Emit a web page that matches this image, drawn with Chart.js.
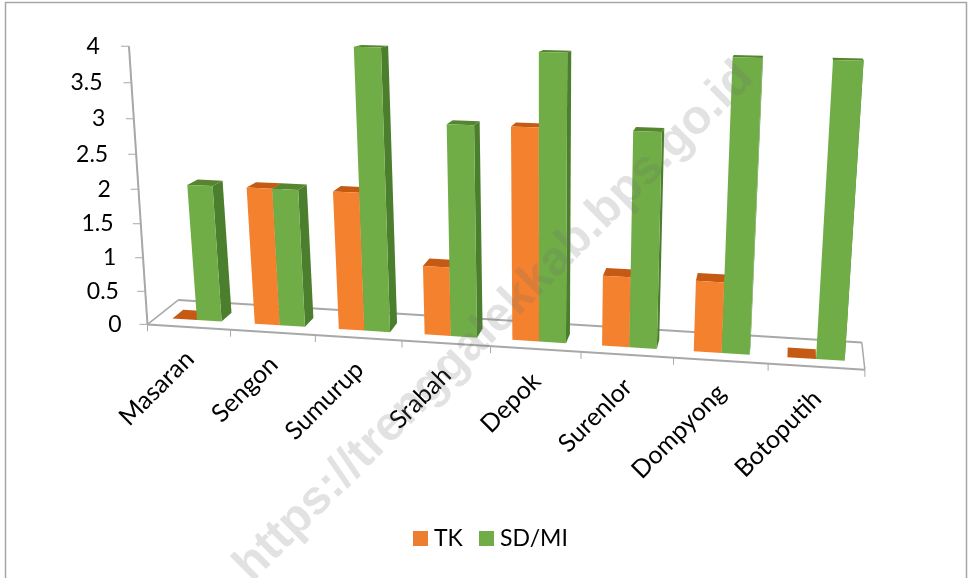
<!DOCTYPE html>
<html>
<head>
<meta charset="utf-8">
<script src="https://cdn.jsdelivr.net/npm/chart.js@4"></script>
<style>
  html, body { margin: 0; padding: 0; background: #fff; }
  #wrap { width: 970px; height: 578px; }
</style>
</head>
<body>
<div id="wrap"><canvas id="chart" width="970" height="578"></canvas></div>
<script>
const categories = ["Masaran", "Sengon", "Sumurup", "Srabah", "Depok", "Surenlor", "Dompyong", "Botoputih"];
const tk = [0, 2, 2, 1, 3, 1, 1, 0];
const sdmi = [2, 2, 4, 3, 4, 3, 4, 4];
const yStep = 0.5;
const yMax = 4;
const watermark = "https://trenggalekkab.bps.go.id";

const FONT = "Lato, Carlito, sans-serif";

// where the corners of the plot end up on screen (first/last category at 0 and at 4)
const quad = [[197, 320], [816, 359], [833, 60], [177, 42]];

// square -> quad homography
const makeProjection = (q) => {
  const [[x0, y0], [x1, y1], [x2, y2], [x3, y3]] = q;
  const dx1 = x1 - x2, dx2 = x3 - x2, sx = x0 - x1 + x2 - x3;
  const dy1 = y1 - y2, dy2 = y3 - y2, sy = y0 - y1 + y2 - y3;
  const den = dx1 * dy2 - dx2 * dy1;
  const g = (sx * dy2 - dx2 * sy) / den;
  const h = (dx1 * sy - sx * dy1) / den;
  const a = x1 - x0 + g * x1, b = x3 - x0 + h * x3;
  const d = y1 - y0 + g * y1, e = y3 - y0 + h * y3;
  return (s, t) => {
    const w = g * s + h * t + 1;
    return [(a * s + b * t + x0) / w, (d * s + e * t + y0) / w];
  };
};
const squareToScreen = makeProjection(quad);

// pushes a point back along the depth axis
const extrude = ([x, y], depth) => [
  x + depth * 0.017 * (800 - x),
  y - depth * 0.025 * (y + 30),
];

const poly = (ctx, pts, color) => {
  ctx.beginPath();
  pts.forEach((p, i) => (i ? ctx.lineTo(p[0], p[1]) : ctx.moveTo(p[0], p[1])));
  ctx.closePath();
  ctx.fillStyle = color;
  ctx.fill();
};

const line = (ctx, a, b, color, width) => {
  ctx.beginPath();
  ctx.moveTo(a[0], a[1]);
  ctx.lineTo(b[0], b[1]);
  ctx.strokeStyle = color;
  ctx.lineWidth = width;
  ctx.stroke();
};

const faces = [
  { front: "#F4812D", top: "#C55A14", side: "#B85510" },
  { front: "#70AD47", top: "#55852F", side: "#4B7F2E" },
];

const perspective = {
  id: "perspective",
  beforeDatasetsDraw(chart) {
    const { ctx, scales } = chart;
    const xs = scales.x, ys = scales.y;
    const left = xs.getPixelForValue(0), right = xs.getPixelForValue(categories.length - 1);
    const zero = ys.getPixelForValue(0), top = ys.getPixelForValue(yMax);
    const toScreen = (px, py) =>
      squareToScreen((px - left) / (right - left), (zero - py) / (zero - top));
    const onFloor = (i, depth) => extrude(toScreen(xs.getPixelForValue(i), zero), depth);
    const last = categories.length - 0.5;

    ctx.save();
    // floor
    const axisColor = "#A8A8A8";
    const fl = onFloor(-0.5, -0.8), fr = onFloor(last, -0.8), br = onFloor(last, 2), bl = onFloor(-0.5, 2);
    line(ctx, fl, fr, axisColor, 2);
    line(ctx, fr, br, axisColor, 1.5);
    line(ctx, br, bl, axisColor, 2);
    line(ctx, bl, fl, axisColor, 1.5);
    for (let i = -0.5; i <= last; i++) {
      const p = onFloor(i, -0.8);
      line(ctx, p, [p[0], p[1] + 7], axisColor, 1);
    }

    // y axis, leans a little further in towards the top
    const yAt = (v) => {
      const p = extrude(toScreen(xs.getPixelForValue(-0.5), ys.getPixelForValue(v)), -0.8);
      return [p[0] + v, p[1] + v];
    };
    line(ctx, yAt(0), yAt(yMax), axisColor, 2);
    ctx.font = `23px ${FONT}`;
    ctx.textAlign = "right";
    ctx.textBaseline = "middle";
    ys.ticks.forEach((t) => {
      const p = yAt(t.value);
      line(ctx, p, [p[0] - 8, p[1]], axisColor, 1);
      ctx.fillStyle = "#000";
      ctx.fillText(String(t.value), p[0] - 26 - t.value * 0.8, p[1]);
    });

    // bars, back part first so the front faces stay on top
    categories.forEach((_, i) => {
      chart.data.datasets.forEach((ds, d) => {
        const el = chart.getDatasetMeta(d).data[i];
        const hw = el.width / 2;
        const a = toScreen(el.x - hw, el.base), b = toScreen(el.x + hw, el.base);
        const c = toScreen(el.x + hw, el.y), e = toScreen(el.x - hw, el.y);
        poly(ctx, [b, c, extrude(c, 1), extrude(b, 1)], faces[d].side);
        poly(ctx, [e, c, extrude(c, 1), extrude(e, 1)], faces[d].top);
        poly(ctx, [a, b, c, e], faces[d].front);
      });
    });

    // category labels
    ctx.font = `25px ${FONT}`;
    ctx.fillStyle = "#000";
    ctx.textAlign = "right";
    ctx.textBaseline = "middle";
    categories.forEach((name, i) => {
      const p = onFloor(i, -0.8);
      ctx.save();
      ctx.translate(p[0] + 1, p[1] + 28);
      ctx.rotate(-Math.PI / 4);
      ctx.fillText(name, 0, 0);
      ctx.restore();
    });

    // legend, the gap between box and text is tighter than the built-in one
    const legendX = [[413, 434], [479, 500]];
    ctx.font = `23px ${FONT}`;
    ctx.textAlign = "left";
    chart.data.datasets.forEach((ds, d) => {
      ctx.fillStyle = ds.backgroundColor;
      ctx.fillRect(legendX[d][0], 531, 15, 15);
      ctx.fillStyle = "#000";
      ctx.fillText(ds.label, legendX[d][1], 539);
    });
    ctx.restore();
    return false;
  },
  afterDraw(chart) {
    const { ctx, width, height } = chart;
    ctx.save();
    ctx.strokeStyle = "#A6A6A6";
    ctx.lineWidth = 1.5;
    ctx.strokeRect(5.5, 2.5, width - 9, height + 10);
    ctx.translate(252, 583);
    ctx.rotate((-45 * Math.PI) / 180);
    ctx.font = `bold 48px "Liberation Sans", sans-serif`;
    ctx.fillStyle = "rgba(110,110,110,0.2)";
    ctx.textAlign = "left";
    ctx.textBaseline = "alphabetic";
    ctx.fillText(watermark, 0, 0);
    ctx.restore();
  },
};

new Chart("chart", {
  type: "bar",
  data: {
    labels: categories,
    datasets: [
      { label: "TK", data: tk, backgroundColor: "#ED7D31" },
      { label: "SD/MI", data: sdmi, backgroundColor: "#70AD47" },
    ],
  },
  options: {
    responsive: false,
    animation: false,
    categoryPercentage: 0.6,
    barPercentage: 1,
    scales: {
      x: { display: false },
      y: { display: false, min: 0, max: yMax, ticks: { stepSize: yStep } },
    },
    plugins: {
      legend: { display: false },
      tooltip: { enabled: false },
    },
  },
  plugins: [perspective],
});
</script>
</body>
</html>
